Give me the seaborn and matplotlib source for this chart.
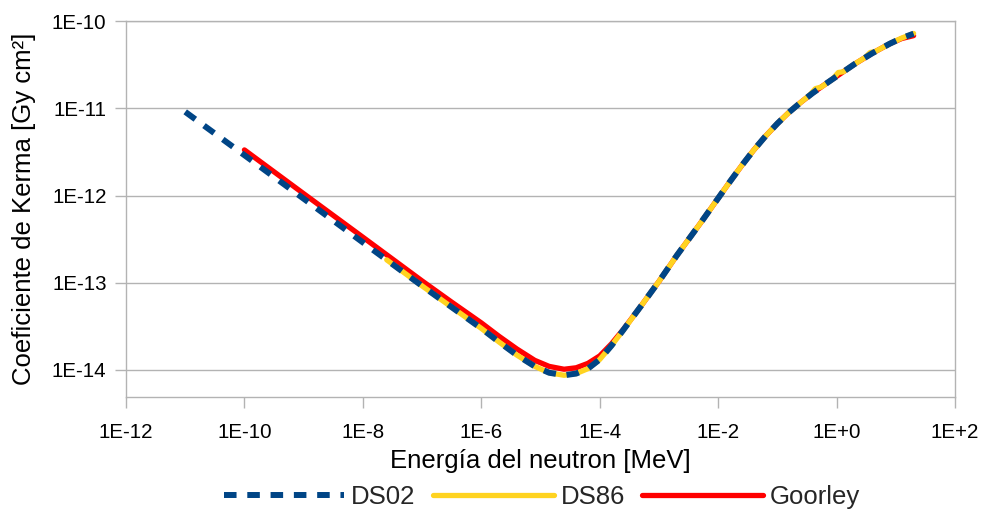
import numpy as np
import pandas as pd
import matplotlib
matplotlib.use("Agg")
import matplotlib.pyplot as plt
import seaborn as sns
from matplotlib.lines import Line2D

# ---- data ----
ds02_E = [1e-11, 1e-10, 1e-9, 1e-8, 1e-7, 3.16e-7, 1e-6, 2e-6, 4e-6, 8e-6, 1.4e-5, 2.5e-5,
          4e-5, 6.31e-5, 1e-4, 1.585e-4, 2.51e-4, 5e-4, 1e-3, 2e-3, 5e-3, 1e-2, 1.585e-2,
          2.51e-2, 3.98e-2, 6.31e-2, 0.1, 0.158, 0.251, 0.398, 0.631, 1.0, 2.0, 4.0, 7.94,
          12.6, 20.0]
ds02_K = [9.1e-12, 2.9e-12, 9.2e-13, 2.9e-13, 9.2e-14, 5.25e-14, 3.0e-14, 2.09e-14, 1.48e-14,
          1.10e-14, 9.3e-15, 8.7e-15, 9.1e-15, 1.035e-14, 1.32e-14, 1.905e-14, 2.88e-14,
          5.43e-14, 1.035e-13, 2.05e-13, 4.8e-13, 9.3e-13, 1.445e-12, 2.21e-12, 3.31e-12,
          4.79e-12, 6.68e-12, 9.02e-12, 1.175e-11, 1.50e-11, 1.87e-11, 2.32e-11, 3.20e-11,
          4.27e-11, 5.50e-11, 6.38e-11, 7.16e-11]

ds86_E = [2.53e-8, 1e-7, 3.16e-7, 1e-6, 2e-6, 4e-6, 8e-6, 1.4e-5, 2.5e-5, 4e-5, 6.31e-5, 1e-4,
          1.585e-4, 2.51e-4, 5e-4, 1e-3, 2e-3, 5e-3, 1e-2, 1.585e-2, 2.51e-2, 3.98e-2, 6.31e-2,
          0.1, 0.158, 0.251, 0.35, 0.44, 0.55, 0.85, 1.07, 1.3, 2.0, 3.0, 3.7, 4.5, 7.94, 12.6,
          20.0]
ds86_K = [1.83e-13, 9.2e-14, 5.25e-14, 3.0e-14, 2.09e-14, 1.48e-14, 1.10e-14, 9.3e-15, 8.7e-15,
          9.1e-15, 1.035e-14, 1.32e-14, 1.905e-14, 2.88e-14, 5.43e-14, 1.035e-13, 2.05e-13,
          4.8e-13, 9.3e-13, 1.445e-12, 2.21e-12, 3.31e-12, 4.79e-12, 6.68e-12, 9.02e-12,
          1.175e-11, 1.41e-11, 1.68e-11, 1.75e-11, 2.15e-11, 2.57e-11, 2.62e-11, 3.2e-11,
          3.8e-11, 4.36e-11, 4.47e-11, 5.5e-11, 6.38e-11, 7.2e-11]

goorley_E = [1e-10, 1e-9, 1e-8, 1e-7, 3.16e-7, 1e-6, 2e-6, 4e-6, 8e-6, 1.4e-5, 2.5e-5, 4e-5,
             6.31e-5, 1e-4, 1.585e-4, 2.51e-4, 5e-4, 1e-3, 2e-3, 5e-3, 1e-2, 1.585e-2, 2.51e-2,
             3.98e-2, 6.31e-2, 0.1, 0.158, 0.251, 0.398, 0.631, 1.0, 2.0, 4.0, 7.94, 12.6, 20.0]
goorley_K = [3.33e-12, 1.05e-12, 3.33e-13, 1.05e-13, 6.0e-14, 3.47e-14, 2.43e-14, 1.74e-14,
             1.29e-14, 1.1e-14, 1.02e-14, 1.06e-14, 1.19e-14, 1.45e-14, 2.0e-14, 2.92e-14,
             5.43e-14, 1.035e-13, 2.05e-13, 4.8e-13, 9.3e-13, 1.445e-12, 2.21e-12, 3.31e-12,
             4.79e-12, 6.68e-12, 9.02e-12, 1.175e-11, 1.50e-11, 1.87e-11, 2.32e-11, 3.20e-11,
             4.27e-11, 5.50e-11, 6.3e-11, 6.8e-11]

x_ticks = [1e-12, 1e-10, 1e-8, 1e-6, 1e-4, 1e-2, 1e0, 1e2]
x_tick_labels = ["1E-12", "1E-10", "1E-8", "1E-6", "1E-4", "1E-2", "1E+0", "1E+2"]
y_ticks = [1e-14, 1e-13, 1e-12, 1e-11, 1e-10]
y_tick_labels = ["1E-14", "1E-13", "1E-12", "1E-11", "1E-10"]

c_ds02 = "#004586"
c_ds86 = "#FFD320"
c_goor = "#FF0000"

sns.set_theme(style="white")
plt.rcParams["font.family"] = ["Liberation Sans", "DejaVu Sans"]

fig = plt.figure(figsize=(9.82, 5.14), dpi=100)
ax = fig.add_axes([0.1283, 0.2276, 0.9725 - 0.1283, 0.9591 - 0.2276])
ax.set_xscale("log")
ax.set_yscale("log")

sns.lineplot(x=goorley_E, y=goorley_K, ax=ax, color=c_goor, linewidth=3.8, zorder=2)
sns.lineplot(x=ds86_E, y=ds86_K, ax=ax, color=c_ds86, linewidth=3.8, zorder=3)
sns.lineplot(x=ds02_E, y=ds02_K, ax=ax, color=c_ds02, linewidth=4.3, zorder=4)
ds02_line = ax.get_lines()[-1]
ds02_line.set_dashes([2.1, 1.8])
ds02_line.set_dash_capstyle("butt")
for ln in ax.get_lines():
    ln.set_solid_joinstyle("round")

ax.set_xlim(1e-12, 1e2)
ax.set_ylim(4.9e-15, 1e-10)
ax.set_xticks(x_ticks)
ax.set_xticklabels(x_tick_labels)
ax.set_yticks(y_ticks)
ax.set_yticklabels(y_tick_labels)
ax.xaxis.set_minor_locator(matplotlib.ticker.NullLocator())
ax.yaxis.set_minor_locator(matplotlib.ticker.NullLocator())

grid_c = "#b3b3b3"
ax.yaxis.grid(True, color=grid_c, linewidth=1.0, zorder=0)
ax.xaxis.grid(False)
for s in ax.spines.values():
    s.set_color(grid_c)
    s.set_linewidth(1.0)
ax.tick_params(axis="both", which="major", length=8, width=1.0, color=grid_c,
               labelsize=14.8, labelcolor="black", direction="out")
ax.tick_params(axis="x", pad=11)
ax.tick_params(axis="y", pad=6)
ax.tick_params(bottom=True, left=True)

ax.set_xlabel("Energía del neutron [MeV]", fontsize=18.5, color="black")
ax.set_ylabel("Coeficiente de Kerma [Gy cm²]", fontsize=18.5, color="black")
ax.xaxis.set_label_coords(0.5, (397 - 449) / 376)
ax.yaxis.set_label_coords((36 - 126) / 829, 0.5)

handles = [
    Line2D([0], [0], color=c_ds02, linewidth=4.3, dashes=[2.1, 1.8], dash_capstyle="butt"),
    Line2D([0], [0], color=c_ds86, linewidth=3.8),
    Line2D([0], [0], color=c_goor, linewidth=3.8),
]
fig.legend(handles, ["DS02", "DS86", "Goorley"], loc="center",
           bbox_to_anchor=(542 / 982, 1 - 497 / 514),
           ncol=3, frameon=False, fontsize=18.5, handlelength=4.69, handletextpad=0.27,
           columnspacing=0.68, borderpad=0.1)

fig.savefig("out.png", dpi=100)
